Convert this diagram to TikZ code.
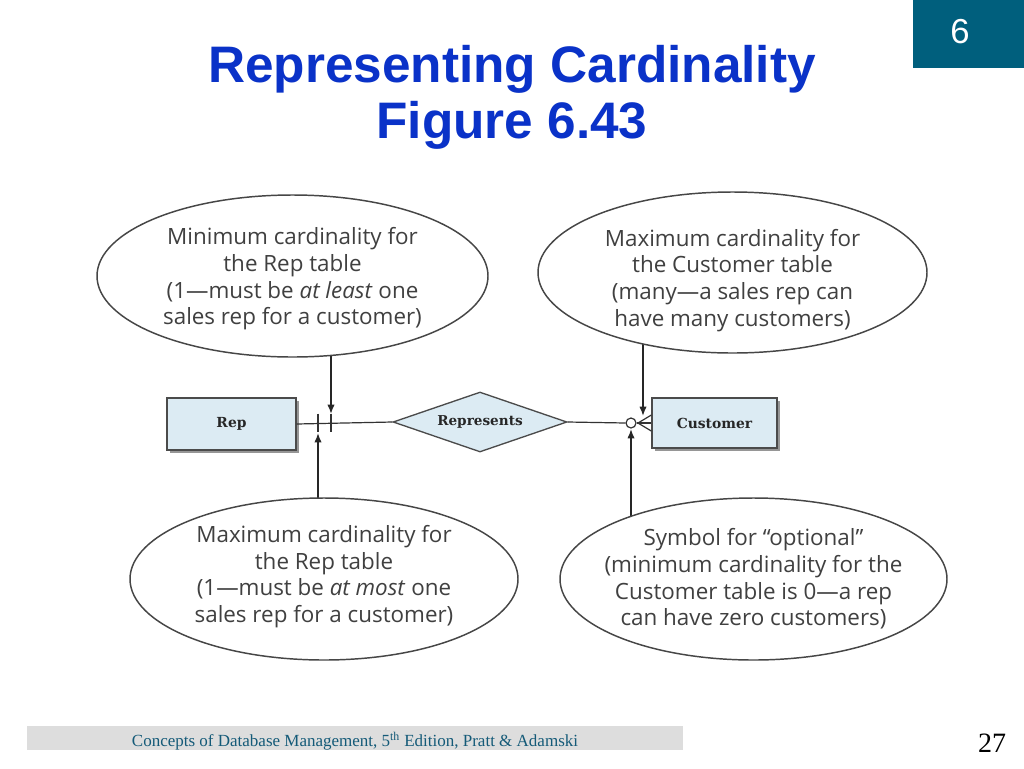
\documentclass[tikz,border=0pt]{standalone}
\usepackage{fontspec}
\setmainfont{Liberation Serif}
\newfontfamily\titlefont{Liberation Sans}
\newfontfamily\ellfont{Open Sans}
\newfontfamily\boxfont{DejaVu Serif}
\usetikzlibrary{shapes.geometric,arrows.meta,shadows,backgrounds}
\definecolor{tealc}{RGB}{0,95,125}
\definecolor{titleblue}{RGB}{10,50,200}
\definecolor{footteal}{RGB}{20,90,120}
\definecolor{footgray}{RGB}{221,221,221}
\definecolor{boxfill}{RGB}{220,235,243}
\definecolor{boxline}{RGB}{75,75,75}
\definecolor{elltext}{RGB}{64,64,64}
\definecolor{ellline}{RGB}{70,70,70}
\tikzset{
  titletext/.style={text=titleblue, font=\titlefont\bfseries\fontsize{38.5}{38.5}\selectfont, anchor=base, inner sep=0},
  ell/.style={ellipse, draw=ellline, line width=1.1pt, fill=white, inner sep=0},
  elllabel/.style={text=elltext, align=center, inner sep=0,
    font=\ellfont\fontsize{16.8}{20}\selectfont},
  entity/.style={rectangle, draw=boxline, line width=1pt, fill=boxfill, inner sep=0,
    font=\boxfont\bfseries\fontsize{10.4}{12}\selectfont, text=black!85,
    drop shadow={shadow xshift=2pt, shadow yshift=-2pt, fill=black!55, opacity=0.75}},
  relship/.style={diamond, draw=boxline, line width=1pt, fill=boxfill, inner sep=0, aspect=2.9,
    font=\boxfont\bfseries\fontsize{10.2}{12}\selectfont, text=black!85},
  conn/.style={draw=black!80, line width=0.9pt},
  pointer/.style={draw=black!85, line width=1.1pt, -{Latex[length=7pt,width=5.5pt]}},
}
\begin{document}
\begin{tikzpicture}[x=0.75pt,y=-0.75pt]
\useasboundingbox (0,0) rectangle (1024,768);
\begin{pgfonlayer}{background}
\fill[white] (0,0) rectangle (1024,768);
\end{pgfonlayer}

% slide number box
\node (numbox) [fill=tealc, minimum width=83.25pt, minimum height=51pt, anchor=north east, inner sep=0] at (1024,0) {};
\node (num) [text=white, font=\titlefont\fontsize{26}{26}\selectfont, anchor=base, inner sep=0] at (960,43) {6};

% title
\node (title1) [titletext] at (512,82) {Representing Cardinality};
\node (title2) [titletext] at (512,138) {Figure 6.43};

% footer
\node (footbar) [fill=footgray, minimum width=492pt, minimum height=18pt, anchor=north west, inner sep=0] at (27,726) {};
\node (foottext) [text=footteal, font=\fontsize{12.75}{14}\selectfont, anchor=base, inner sep=0] at (355,746) {Concepts of Database Management, 5\textsuperscript{th} Edition, Pratt \& Adamski};
\node (page) [font=\fontsize{21}{21}\selectfont, anchor=base, inner sep=0] at (992,752) {27};

% entities
\node (rep) [entity, minimum width=96.75pt, minimum height=39pt] at (231.5,424) {Rep};
\node (rel) [relship, minimum width=130.5pt, minimum height=45pt] at (480,422) {Represents};
\node (cust) [entity, minimum width=93.75pt, minimum height=37.5pt] at (714.5,423) {Customer};
\node (opt) [circle, draw=black!80, line width=0.9pt, fill=white, minimum size=7.5pt, inner sep=0] at (631,423) {};

% ellipses
\node (e1) [ell, minimum width=293.25pt, minimum height=121.5pt] at (292.5,276) {};
\node (e1t) [elllabel] at ([yshift=-2.25pt]e1.center)
  {Minimum cardinality for\\the Rep table\\(1—must be \textit{at least} one\\sales rep for a customer)};
\node (e2) [ell, minimum width=291.75pt, minimum height=120.75pt] at (732.5,272.5) {};
\node (e2t) [elllabel] at ([yshift=-5.8pt]e2.center)
  {Maximum cardinality for\\the Customer table\\(many—a sales rep can\\have many customers)};
\node (e3) [ell, minimum width=291pt, minimum height=121.5pt] at (324,579) {};
\node (e3t) [elllabel] at ([yshift=1.9pt]e3.center)
  {Maximum cardinality for\\the Rep table\\(1—must be \textit{at most} one\\sales rep for a customer)};
\node (e4) [ell, minimum width=290.25pt, minimum height=121.5pt] at (753.5,579) {};
\node (e4t) [elllabel] at (e4.center)
  {Symbol for “optional”\\(minimum cardinality for the\\Customer table is 0—a rep\\can have zero customers)};

% connectors
\draw[conn] (rep.east) -- (rel.west);
\draw[conn] (rel.east) -- (opt.west);
\coordinate (apex) at (638,423);
\draw[conn] (opt.east) -- (cust.west);
\draw[conn] (apex) -- ([yshift=6pt]cust.west);
\draw[conn] (apex) -- ([yshift=-6pt]cust.west);

% bars for "one"
\coordinate (bar1) at (318,423);
\coordinate (bar2) at (331,423);
\draw[conn] ([yshift=7pt]bar1) -- ([yshift=-7pt]bar1);
\draw[conn] ([yshift=7pt]bar2) -- ([yshift=-7pt]bar2);

% pointer targets
\coordinate (pA) at (331,414);
\coordinate (pB) at (318,433);
\coordinate (pC) at (643,416);
\coordinate (pD) at (631,429);

\begin{pgfonlayer}{background}
\draw[pointer] (pA |- e1.center) -- (pA);
\draw[pointer] (pB |- e3.center) -- (pB);
\draw[pointer] (pC |- e2.center) -- (pC);
\draw[pointer] (pD |- e4.center) -- (pD);
\end{pgfonlayer}
\end{tikzpicture}
\end{document}
